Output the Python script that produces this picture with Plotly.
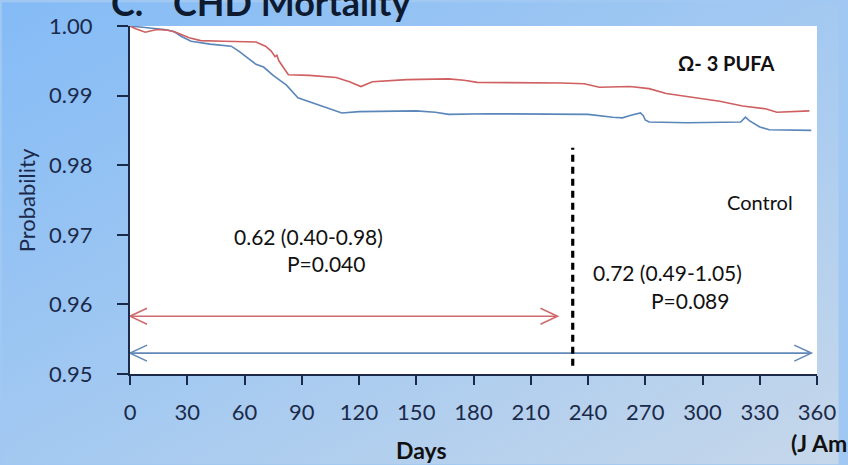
import base64
import plotly.graph_objects as go

# ---------------- data ----------------
days_pufa = [0, 3, 8, 14, 20, 24, 31, 37, 49, 66, 71, 74, 76, 77, 78, 83, 94, 108, 115, 121,
             127, 145, 167, 175, 182, 205, 226, 238, 246, 262, 272, 281, 296, 309, 321, 333,
             339, 345, 356]
prob_pufa = [1.0000, 0.9996, 0.9991, 0.9995, 0.9994, 0.9991, 0.9983, 0.9979, 0.9978, 0.9977,
             0.9971, 0.9964, 0.9956, 0.9958, 0.9950, 0.9930, 0.9929, 0.9926, 0.9920, 0.9913,
             0.9920, 0.9923, 0.9924, 0.9922, 0.9919, 0.9919, 0.9918, 0.9917, 0.9912, 0.9913,
             0.9910, 0.9903, 0.9897, 0.9892, 0.9885, 0.9881, 0.9876, 0.9877, 0.9878]

days_ctrl = [0, 10, 18, 23, 27, 32, 42, 53, 57, 66, 70, 75, 82, 88, 96, 104, 111, 120, 150,
             160, 167, 188, 222, 240, 253, 258, 263, 267.5, 269, 270, 272, 292, 320, 322.5,
             324.5, 330, 335, 357]
prob_ctrl = [1.0000, 0.9997, 0.9995, 0.9992, 0.9985, 0.9978, 0.9974, 0.9971, 0.9964, 0.9945,
             0.9941, 0.9929, 0.9915, 0.9897, 0.9889, 0.9881, 0.9875, 0.9877, 0.9878, 0.9876,
             0.9873, 0.9874, 0.9874, 0.9873, 0.9869, 0.9868, 0.9872, 0.9875, 0.9871, 0.9865,
             0.9862, 0.9861, 0.9862, 0.9869, 0.9864, 0.9855, 0.9851, 0.9850]

x_ticks = [0, 30, 60, 90, 120, 150, 180, 210, 240, 270, 300, 330, 360]
y_ticks = [0.95, 0.96, 0.97, 0.98, 0.99, 1.00]

split_day = 232
split_span = [0.9512, 0.9825]

arrow_pufa = [0, 224]      # days spanned by the 0-224 day HR arrow
arrow_pufa_level = 0.9583
arrow_ctrl = [0, 357]      # days spanned by the full-period HR arrow
arrow_ctrl_level = 0.9530

hr_early = "0.62 (0.40-0.98)"
p_early = "P=0.040"
hr_full = "0.72 (0.49-1.05)"
p_full = "P=0.089"

RED = "#cf5f60"
BLUE = "#5a86ba"
RED_ARROW = "#d06a6c"
BLUE_ARROW = "#6288b8"
NAVY = "#1b2a4a"
FONT = "Lato"

# ---------------- geometry helpers (layout positions) ----------------
W, H = 848, 465
ML, MR, MT, MB = 130, 22, 24, 91
PW, PH = W - ML - MR, H - MT - MB


def px_x(px):
    return (px - ML) / PW


def px_y(py):
    return (H - MB - py) / PH


# ---------------- background gradient ----------------
svg = (
    '<svg xmlns="http://www.w3.org/2000/svg" width="848" height="465" viewBox="0 0 848 465" '
    'preserveAspectRatio="none">'
    '<defs><linearGradient id="g" x1="0" y1="0" x2="1" y2="1">'
    '<stop offset="0" stop-color="#84bbf6"/>'
    '<stop offset="0.5" stop-color="#a3c9f1"/>'
    '<stop offset="1" stop-color="#c6d7ea"/>'
    '</linearGradient></defs>'
    '<rect x="0" y="0" width="848" height="465" fill="url(#g)"/></svg>'
)
bg_src = "data:image/svg+xml;base64," + base64.b64encode(svg.encode()).decode()

fig = go.Figure()

fig.add_trace(go.Scatter(x=days_ctrl, y=prob_ctrl, mode="lines",
                         line=dict(color=BLUE, width=1.6), showlegend=False, hoverinfo="skip"))
fig.add_trace(go.Scatter(x=days_pufa, y=prob_pufa, mode="lines",
                         line=dict(color=RED, width=1.6), showlegend=False, hoverinfo="skip"))

# arrow shafts
fig.add_trace(go.Scatter(x=arrow_pufa, y=[arrow_pufa_level] * 2, mode="lines",
                         line=dict(color=RED_ARROW, width=1.6), showlegend=False, hoverinfo="skip"))
fig.add_trace(go.Scatter(x=arrow_ctrl, y=[arrow_ctrl_level] * 2, mode="lines",
                         line=dict(color=BLUE_ARROW, width=1.6), showlegend=False, hoverinfo="skip"))

# vertical split line
fig.add_trace(go.Scatter(x=[split_day, split_day], y=split_span, mode="lines",
                         line=dict(color="#000000", width=3.2, dash="7px,5px"),
                         showlegend=False, hoverinfo="skip"))

shapes = [
    dict(type="rect", xref="x domain", yref="y domain", x0=0, x1=1, y0=0, y1=1,
         fillcolor="white", line=dict(width=0), layer="below"),
]


def chevron(xa, ya, direction, color):
    # direction +1: pointing right, -1: pointing left (pixel-sized head)
    L, h = 17, 8
    d = -direction * L
    return dict(type="path", xref="x", yref="y", xsizemode="pixel", ysizemode="pixel",
                xanchor=xa, yanchor=ya,
                path=f"M{d},{h} L0,0 L{d},{-h}",
                line=dict(color=color, width=1.6), fillcolor="rgba(0,0,0,0)", layer="above")


shapes += [
    chevron(arrow_pufa[0], arrow_pufa_level, -1, RED_ARROW),
    chevron(arrow_pufa[1], arrow_pufa_level, 1, RED_ARROW),
    chevron(arrow_ctrl[0], arrow_ctrl_level, -1, BLUE_ARROW),
    chevron(arrow_ctrl[1], arrow_ctrl_level, 1, BLUE_ARROW),
]

ann_font = dict(family=FONT, size=21, color="#111111")
annotations = [
    # title (cut at the top like the slide)
    dict(text="<b>C.</b>", xref="paper", yref="paper", x=px_x(109), y=px_y(24),
         xanchor="left", yanchor="bottom", showarrow=False,
         font=dict(family=FONT, size=36, color="#0d1a30")),
    dict(text="<b>CHD Mortality</b>", xref="paper", yref="paper", x=px_x(172), y=px_y(24),
         xanchor="left", yanchor="bottom", showarrow=False,
         font=dict(family=FONT, size=36, color="#0d1a30")),
    # series labels
    dict(text="<b>Ω- 3 PUFA</b>", x=312.5, y=0.99468, xref="x", yref="y", showarrow=False,
         font=dict(family=FONT, size=20, color="#111111")),
    dict(text="Control", x=330, y=0.97465, xref="x", yref="y", showarrow=False,
         font=dict(family=FONT, size=20, color="#111111")),
    # hazard ratios
    dict(text=hr_early, x=93.5, y=0.96979, xref="x", yref="y", showarrow=False, font=ann_font),
    dict(text=p_early, x=102.8, y=0.96584, xref="x", yref="y", showarrow=False, font=ann_font),
    dict(text=hr_full, x=281.5, y=0.96464, xref="x", yref="y", showarrow=False, font=ann_font),
    dict(text=p_full, x=293.5, y=0.96059, xref="x", yref="y", showarrow=False, font=ann_font),
    # axis titles
    dict(text="Probability", xref="paper", yref="paper", x=px_x(25), y=0.5, textangle=-90,
         xanchor="center", yanchor="middle", showarrow=False,
         font=dict(family=FONT, size=22, color=NAVY)),
    dict(text="<b>Days</b>", xref="paper", yref="paper", x=px_x(425), y=px_y(450),
         xanchor="center", yanchor="middle", showarrow=False,
         font=dict(family=FONT, size=23, color="#111111")),
    dict(text="<b>(J Am</b>", xref="paper", yref="paper", x=px_x(798), y=px_y(443),
         xanchor="left", yanchor="middle", showarrow=False,
         font=dict(family=FONT, size=23, color="#111111")),
]

axis_common = dict(showgrid=False, zeroline=False, showline=True, linecolor=NAVY, linewidth=2,
                   ticks="outside", tickcolor=NAVY, tickwidth=2,
                   tickfont=dict(family=FONT, size=22, color=NAVY), fixedrange=True)

fig.update_layout(
    width=W, height=H,
    margin=dict(l=ML, r=MR, t=MT, b=MB, pad=0),
    paper_bgcolor="#a0c8f2",
    plot_bgcolor="white",
    xaxis=dict(range=[0, 360], tickvals=x_ticks, ticklen=9, ticklabelstandoff=9, **axis_common),
    yaxis=dict(range=[0.95, 1.00], tickvals=y_ticks, tickformat=".2f", ticklen=11,
               ticklabelstandoff=20, **axis_common),
    images=[dict(source=bg_src, xref="paper", yref="paper", x=-ML / PW, y=1 + MT / PH,
                 sizex=W / PW, sizey=H / PH, sizing="stretch", xanchor="left", yanchor="top",
                 layer="below")],
    shapes=shapes,
    annotations=annotations,
    showlegend=False,
)

fig.write_html("out.html")
